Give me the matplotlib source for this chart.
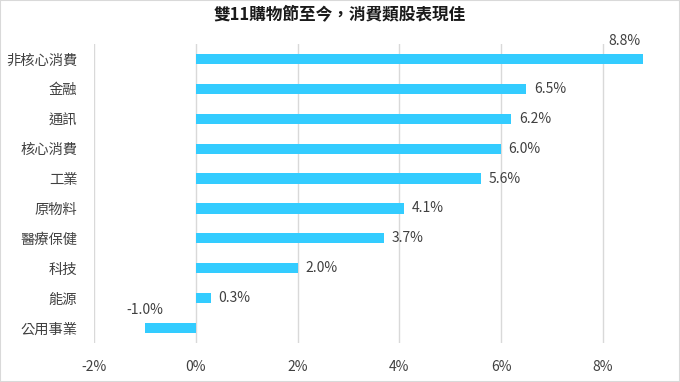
import matplotlib
matplotlib.use('Agg')
import matplotlib.pyplot as plt
from matplotlib.patches import Rectangle

plt.rcParams['font.family'] = ['Noto Sans CJK TC', 'DejaVu Sans']

# data (top to bottom as shown)
categories = ['非核心消費', '金融', '通訊', '核心消費', '工業', '原物料', '醫療保健', '科技', '能源', '公用事業']
returns = [8.8, 6.5, 6.2, 6.0, 5.6, 4.1, 3.7, 2.0, 0.3, -1.0]
xticks = [-2, 0, 2, 4, 6, 8]
title = '雙11購物節至今，消費類股表現佳'

bar_color = '#33CCFF'
text_color = '#404040'
grid_color = '#D9D9D9'

fig = plt.figure(figsize=(6.8, 3.82), dpi=100)
fig.patches.append(Rectangle((0, 0), 1, 1, transform=fig.transFigure,
                             fill=False, edgecolor='#D9D9D9', linewidth=1.5))

ax = fig.add_axes([94 / 680, 1 - 343 / 382, (646 - 94) / 680, (343 - 44) / 382])

y = list(range(len(categories)))
ax.barh(y, returns, height=0.34, color=bar_color, zorder=3)
ax.set_ylim(len(categories) - 0.5, -0.5)
ax.set_xlim(-2, 8.85)

ax.set_xticks(xticks)
ax.set_xticklabels([f'{t}%' for t in xticks], color=text_color, fontsize=10)
ax.set_yticks(y)
ax.set_yticklabels(categories, color=text_color, fontsize=10.3)
ax.tick_params(axis='both', length=0)
ax.tick_params(axis='x', pad=12)
ax.tick_params(axis='y', pad=12)

ax.grid(axis='x', color=grid_color, linewidth=1, zorder=0)
for s in ax.spines.values():
    s.set_visible(False)

for i, v in enumerate(returns):
    label = f'{v:.1f}%'
    if i == 0:
        # no room on the right: label sits above the bar end
        ax.text(v - 0.05, i - 0.36, label, ha='right', va='bottom', color=text_color, fontsize=10)
    elif v < 0:
        ax.text(v, i - 0.36, label, ha='center', va='bottom', color=text_color, fontsize=10)
    else:
        ax.text(v + 0.15, i, label, ha='left', va='center', color=text_color, fontsize=10)

fig.suptitle(title, x=0.5, y=0.985, fontsize=12, fontweight='bold', color='#1a1a1a')

fig.savefig('out.png', dpi=100)
